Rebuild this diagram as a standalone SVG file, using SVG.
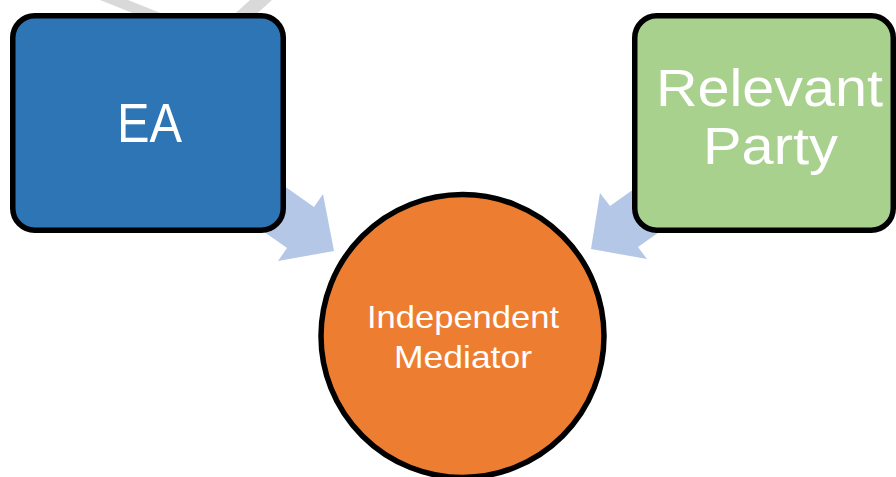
<svg xmlns="http://www.w3.org/2000/svg" width="896" height="477" viewBox="0 0 896 477">
<style>
.node{stroke:#000;stroke-width:5.5}
.lbl{font-family:"Liberation Sans",Arial,sans-serif;fill:#fff;text-anchor:middle}
.arr{fill:#b4c7e7}
.bg{fill:#d9d9d9}
</style>
<rect width="896" height="477" fill="#fff"/>
<g id="background-shape">
<polygon class="bg" points="100,0 128,0 228,40 200,40"/>
<polygon class="bg" points="250,0 272,0 228,40 206,40"/>
</g>
<g id="connectors">
<polygon class="arr" points="248.5,161 314,207 323,194 334,251 278,261 287,248 221.5,202"/>
<polygon class="arr" points="675,160 610,206 600,193 591,249 647,259 638,247 703,201"/>
</g>
<g id="node-ea">
<rect class="node" x="12.75" y="15.75" width="270.5" height="214.5" rx="22" fill="#2e75b6"/>
<text class="lbl" x="149.5" y="142" font-size="56" textLength="65" lengthAdjust="spacingAndGlyphs">EA</text>
</g>
<g id="node-relevant-party">
<rect class="node" x="634.75" y="15.75" width="258.5" height="214.5" rx="22" fill="#a9d18e"/>
<text class="lbl" x="769.5" y="106" font-size="51" textLength="227" lengthAdjust="spacingAndGlyphs">Relevant</text>
<text class="lbl" x="770.5" y="164" font-size="51" textLength="135" lengthAdjust="spacingAndGlyphs">Party</text>
</g>
<g id="node-independent-mediator">
<circle class="node" cx="462.5" cy="336" r="141.5" fill="#ed7d31"/>
<text class="lbl" x="463" y="328" font-size="30.5" textLength="192" lengthAdjust="spacingAndGlyphs">Independent</text>
<text class="lbl" x="463" y="368" font-size="30.5" textLength="138" lengthAdjust="spacingAndGlyphs">Mediator</text>
</g>
</svg>
